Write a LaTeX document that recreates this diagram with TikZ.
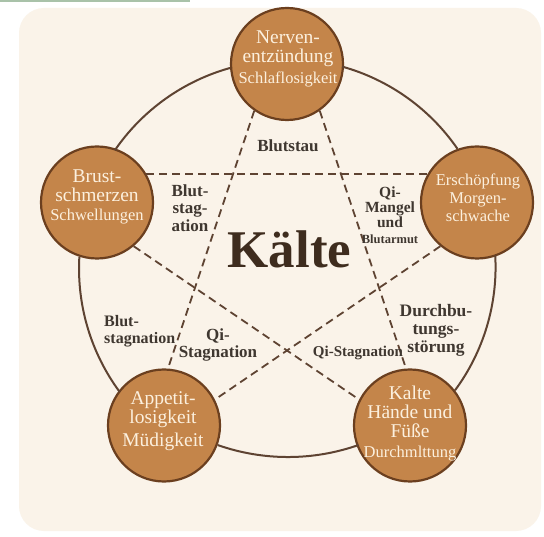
\documentclass[tikz,border=0pt]{standalone}
\usepackage{fontspec}
\setmainfont{Liberation Serif}
\definecolor{panel}{HTML}{FAF3E9}
\definecolor{nodefill}{HTML}{C4854A}
\definecolor{nodeedge}{HTML}{6B3F1F}
\definecolor{nodetext}{HTML}{FCF0DE}
\definecolor{ringcol}{HTML}{5E4332}
\definecolor{labelcol}{HTML}{3F3730}
\definecolor{titlecol}{HTML}{3E2C1E}
\definecolor{stripcol}{HTML}{A9C2A9}
\newcommand\smalltxt[1]{{\fontsize{16.5}{16}\selectfont #1}}
\begin{document}
\begin{tikzpicture}[x=1pt,y=1pt,
  bubble/.style={circle, minimum size=112pt, inner sep=0pt, fill=nodefill, draw=nodeedge, line width=2.2pt},
  btext/.style={text=nodetext, align=center, font=\fontsize{19.5}{19}\selectfont, inner sep=0pt},
  lbl/.style={text=labelcol, align=center, font=\bfseries\fontsize{17}{17.5}\selectfont, inner sep=0pt},
  ring/.style={draw=ringcol, line width=2pt},
  dashline/.style={draw=ringcol, line width=1.8pt, dash pattern=on 8pt off 5pt}]
\useasboundingbox (0,0) rectangle (544,536);
\fill[white] (0,0) rectangle (544,536);
\fill[stripcol] (0,534) rectangle (190,536);
\fill[panel, rounded corners=25pt] (19,5) rectangle (541,528);

% circles
\node[bubble] (T)  at (287,472) {};
\node[bubble] (L)  at (97,333.5) {};
\node[bubble] (R)  at (477,333.5) {};
\node[bubble] (BL) at (164,110.5) {};
\node[bubble] (BR) at (410,110.5) {};

% ring arcs
\draw[ring] (T.184) arc[start angle=105.6, end angle=145.45, radius=207.5];
\draw[ring] (L.252) arc[start angle=176.75, end angle=216.44, radius=207.5];
\draw[ring] (BL.340) arc[start angle=250.65, end angle=289.35, radius=212.5];
\draw[ring] (BR.38) arc[start angle=323.56, end angle=363.25, radius=207.5];
\draw[ring] (R.110) arc[start angle=34.55, end angle=74.4, radius=207.5];

% dashed star
\draw[dashline] (T.235) -- (BL.86);
\draw[dashline] (T.305) -- (BR.94);
\draw[dashline] (L.30) -- (R.150);
\draw[dashline] (L.310) -- (BR.153);
\draw[dashline] (R.230) -- (BL.27);

% node texts
\node[btext] (Tt) at (288,477) {Nerven-\\entzündung\\[2pt]\smalltxt{Schlaflosigkeit}};
\node[btext] (Lt) at (97,339) {Brust-\\schmerzen\\\smalltxt{Schwellungen}};
\node[btext, font=\fontsize{16.5}{18}\selectfont] (Rt) at (478,338) {Erschöpfung\\Morgen-\\schwache};
\node[btext] (BLt) at (163,115) {Appetit-\\losigkeit\\[4pt]Müdigkeit};
\node[btext] (BRt) at (410,112) {Kalte\\Hände und\\Füße\\[1pt]\smalltxt{Durchmlttung}};

% title
\node[text=titlecol, font=\bfseries\fontsize{53}{53}\selectfont, inner sep=0pt] (title) at (289.5,286.5) {Kälte};

% labels
\node[lbl] (l1) at (288,390) {Blutstau};
\node[lbl] (l2) at (190,328) {Blut-\\stag-\\ation};
\node[lbl, font=\bfseries\fontsize{15.5}{15}\selectfont] (l3) at (390,321) {Qi-\\Mangel\\und\\[1pt]{\fontsize{12.5}{12}\selectfont Blutarmut}};
\node[lbl, font=\bfseries\fontsize{16}{17}\selectfont, align=left, anchor=west] (l4) at (104,205) {Blut-\\stagnation};
\node[lbl, font=\bfseries\fontsize{17}{17}\selectfont] (l5) at (218,191.5) {Qi-\\Stagnation};
\node[lbl, font=\bfseries\fontsize{15}{15}\selectfont] (l6) at (358,183) {Qi-Stagnation};
\node[lbl, font=\bfseries\fontsize{17.5}{18}\selectfont] (l7) at (436,205.5) {Durchbu-\\tungs-\\störung};
\end{tikzpicture}
\end{document}
